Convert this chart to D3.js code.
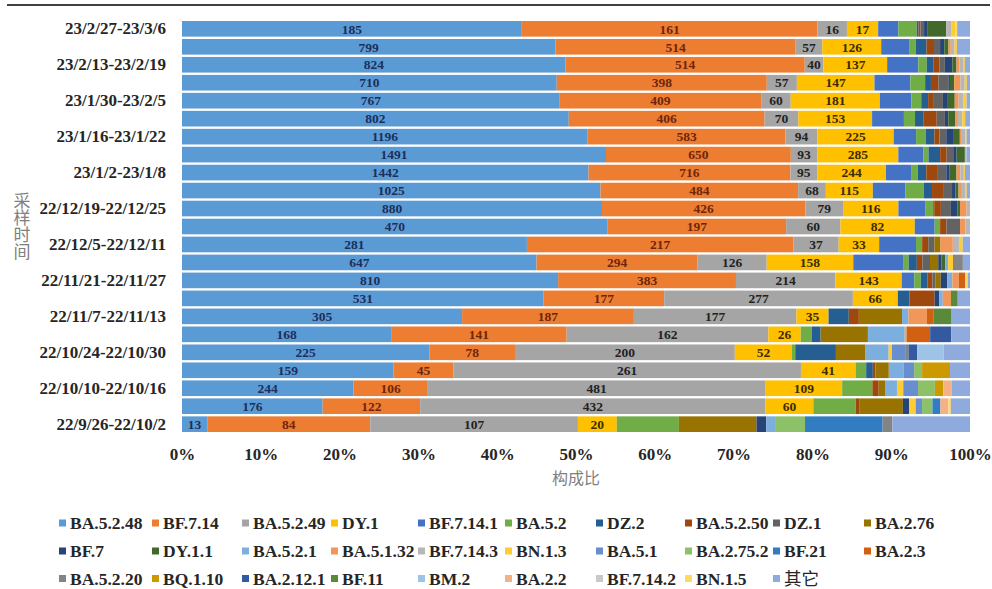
<!DOCTYPE html>
<html><head><meta charset="utf-8">
<script src="https://cdn.jsdelivr.net/npm/d3@7"></script>
<style>body{margin:0;background:#fff}svg{display:block}</style>
</head><body><svg id="chart" width="992" height="589"></svg>
<script>
// Sampling weeks, top row to bottom row
const weeks = ["23/2/27-23/3/6","23/2/20-23/2/26","23/2/13-23/2/19","23/2/6-23/2/12","23/1/30-23/2/5",
  "23/1/23-23/1/29","23/1/16-23/1/22","23/1/9-23/1/15","23/1/2-23/1/8","22/12/26-23/1/1",
  "22/12/19-22/12/25","22/12/12-22/12/18","22/12/5-22/12/11","22/11/28-22/12/4","22/11/21-22/11/27",
  "22/11/14-22/11/20","22/11/7-22/11/13","22/10/31-22/11/6","22/10/24-22/10/30","22/10/17-22/10/23",
  "22/10/10-22/10/16","22/10/3-22/10/9","22/9/26-22/10/2"];

// Sequence counts per lineage, one value per week (same order as weeks)
const BA_5_2_48 = [185,799,824,710,767,802,1196,1491,1442,1025,880,470,281,647,810,531,305,168,225,159,244,176,13];
const BF_7_14   = [161,514,514,398,409,406,583,650,716,484,426,197,217,294,383,177,187,141,78,45,106,122,84];
const BA_5_2_49 = [16,57,40,57,60,70,94,93,95,68,79,60,37,126,214,277,177,162,200,261,481,432,107];
const DY_1      = [17,126,137,147,181,153,225,285,244,115,116,82,33,158,143,66,35,26,52,41,109,60,20];
const BF_7_14_1 = [11,61,67,68,64,66,66,88,89,80,56,22,30,92,27,0,0,0,0,0,0,0,0];
const BA_5_2    = [10,13,18,28,20,23,29,18,24,45,17,6,5,9,14,0,0,9,3,8,43,53,32];
const DZ_2      = [1,23,14,11,14,17,25,41,30,20,2,0,0,15,14,17,22,7,37,5,0,0,0];
const BA_5_2_50 = [1,16,13,14,10,28,15,23,41,29,14,7,5,10,11,37,11,0,0,2,9,5,0];
const DZ_1      = [2,13,12,19,20,17,20,23,30,20,21,15,5,14,7,0,0,0,0,0,0,0,0];
const BA_2_76   = [0,0,0,0,0,0,0,0,0,0,0,0,5,15,11,0,47,38,27,10,9,54,40];
const BF_7      = [2,9,16,3,10,7,20,12,12,8,14,0,0,6,14,7,0,0,0,0,0,8,5];
const DY_1_1    = [10,9,9,8,14,14,20,29,24,8,5,0,0,7,0,0,0,0,0,0,0,0,0];
const BA_5_2_1  = [0,0,0,0,0,0,0,0,0,0,0,0,0,5,11,5,7,29,21,11,17,0,5];
const BA_5_1_32 = [0,5,6,12,8,6,6,0,14,8,14,6,10,0,14,12,20,0,0,0,0,0,0];
const BF_7_14_3 = [3,8,8,8,10,9,10,6,12,8,7,5,5,0,0,0,0,2,0,0,0,0,0];
const BN_1_3    = [2,5,4,4,6,6,4,0,4,4,0,0,3,9,0,0,0,0,3,0,9,8,0];
const BA_5_1    = [0,0,0,0,0,0,0,0,0,0,0,0,0,0,0,0,0,0,12,8,21,8,0];
const BA_2_75_2 = [0,0,0,0,0,0,0,0,0,0,0,0,0,0,0,0,0,0,0,6,24,13,15];
const BF_21     = [0,0,0,0,0,0,0,0,0,0,0,0,0,0,0,0,0,0,0,0,0,10,40];
const BA_2_3    = [0,0,0,0,0,0,0,0,0,0,0,0,0,0,14,0,7,19,0,0,0,0,0];
const BA_5_2_20 = [0,0,0,0,0,0,0,0,0,0,0,0,0,18,0,0,0,0,3,0,0,0,5];
const BQ_1_10   = [0,0,0,0,0,0,0,0,0,0,0,0,0,0,0,0,0,0,0,21,12,0,0];
const BA_2_12_1 = [0,0,0,0,0,0,0,0,0,0,0,0,0,0,0,0,0,17,8,0,0,0,0];
const BF_11     = [0,0,0,0,0,0,0,0,0,0,0,0,0,0,0,10,20,0,0,0,0,0,0];
const BM_2      = [0,0,0,0,0,0,0,0,0,0,0,0,0,0,0,0,0,0,24,0,0,0,0];
const BA_2_2    = [0,0,0,0,0,0,0,0,0,0,0,0,0,0,0,0,0,0,0,0,12,10,0];
const BF_7_14_2 = [0,0,0,0,0,0,0,0,0,0,0,0,0,0,0,0,0,0,0,0,0,0,0];
const BN_1_5    = [1,0,0,0,0,0,0,0,0,0,0,0,0,0,5,0,0,0,0,0,0,3,0];
const OTHERS    = [7,28,11,6,7,10,10,12,18,8,0,0,6,13,5,18,20,15,24,15,26,24,40];

const seriesNames = ["BA.5.2.48","BF.7.14","BA.5.2.49","DY.1","BF.7.14.1","BA.5.2","DZ.2","BA.5.2.50","DZ.1","BA.2.76",
  "BF.7","DY.1.1","BA.5.2.1","BA.5.1.32","BF.7.14.3","BN.1.3","BA.5.1","BA.2.75.2","BF.21","BA.2.3",
  "BA.5.2.20","BQ.1.10","BA.2.12.1","BF.11","BM.2","BA.2.2","BF.7.14.2","BN.1.5","其它"];
const seriesValues = [BA_5_2_48,BF_7_14,BA_5_2_49,DY_1,BF_7_14_1,BA_5_2,DZ_2,BA_5_2_50,DZ_1,BA_2_76,
  BF_7,DY_1_1,BA_5_2_1,BA_5_1_32,BF_7_14_3,BN_1_3,BA_5_1,BA_2_75_2,BF_21,BA_2_3,
  BA_5_2_20,BQ_1_10,BA_2_12_1,BF_11,BM_2,BA_2_2,BF_7_14_2,BN_1_5,OTHERS];
const seriesColors = ["#5B9BD5","#ED7D31","#A5A5A5","#FFC000","#4472C4","#70AD47","#255E91","#9E480E","#636363","#997300",
  "#264478","#43682B","#7CAFDD","#F1975A","#B7B7B7","#FFCD33","#698ED0","#8CC168","#327DC2","#D26012",
  "#848484","#CC9A00","#335AA1","#5A8A39","#9DC3E6","#F4B183","#C9C9C9","#FFD966","#8FAADC"];
const labelColors = ["#1c2f5a","#6e260b","#222222","#3a2c00"];
const xTicks = [0,0.1,0.2,0.3,0.4,0.5,0.6,0.7,0.8,0.9,1];

const svg = d3.select("#chart");
const serif = "'Liberation Serif','Times New Roman',serif";
const cjk = "'Noto Sans CJK SC','Noto Sans',sans-serif";

// top rule
svg.append("line").attr("x1",7).attr("x2",990).attr("y1",5).attr("y2",5)
  .attr("stroke","#000").attr("stroke-width",1.5);

const x = d3.scaleLinear().domain([0,1]).range([182,970]);
const y = d3.scaleBand().domain(weeks).range([21,432]).paddingInner(0.13).paddingOuter(0);

const keys = d3.range(seriesNames.length);
const table = weeks.map((w,i) => {
  const row = {week:w};
  keys.forEach(k => row[k] = seriesValues[k][i]);
  return row;
});
const stacked = d3.stack().keys(keys).offset(d3.stackOffsetExpand)(table);

const layers = svg.append("g").selectAll("g").data(stacked).join("g")
  .attr("fill", d => seriesColors[d.key]);
layers.selectAll("rect").data(d => d).join("rect")
  .attr("x", d => x(d[0]))
  .attr("width", d => Math.max(0, x(d[1]) - x(d[0])))
  .attr("y", d => y(d.data.week))
  .attr("height", y.bandwidth());

// count labels on the four main lineages
stacked.slice(0,4).forEach(layer => {
  svg.append("g").selectAll("text").data(layer).join("text")
    .attr("x", d => (x(d[0]) + x(d[1])) / 2)
    .attr("y", d => y(d.data.week) + y.bandwidth()/2)
    .attr("dy","0.35em")
    .attr("text-anchor","middle")
    .attr("font-family", serif).attr("font-weight","bold").attr("font-size",13.5)
    .attr("fill", labelColors[layer.key])
    .text(d => d.data[layer.key]);
});

// y axis: every other week
const yAxis = svg.append("g").attr("transform","translate(172,0)")
  .call(d3.axisLeft(y).tickValues(weeks.filter((d,i) => i % 2 === 0)).tickSize(0).tickPadding(6));
yAxis.select(".domain").remove();
yAxis.selectAll("text").attr("font-family", serif).attr("font-weight","bold")
  .attr("font-size",17).attr("fill","#262626");

// x axis
const xAxis = svg.append("g").attr("transform","translate(0,442)")
  .call(d3.axisBottom(x).tickValues(xTicks).tickFormat(d3.format(".0%")).tickSize(0).tickPadding(6));
xAxis.select(".domain").remove();
xAxis.selectAll("text").attr("font-family", serif).attr("font-weight","bold")
  .attr("font-size",17).attr("fill","#262626");

// axis titles
svg.append("text").attr("x",576).attr("y",478).attr("dy","0.35em").attr("text-anchor","middle")
  .attr("font-family", cjk).attr("font-size",16).attr("fill","#7f7f7f").text("构成比");
svg.append("text").attr("x",22).attr("y",226)
  .attr("writing-mode","vertical-rl").style("writing-mode","vertical-rl")
  .attr("text-anchor","middle")
  .attr("font-family", cjk).attr("font-size",17).attr("fill","#7f7f7f").text("采样时间");

// legend
const colX = [59,152,242,331,418,505,596,685,773,864];
const rowY = [523,551,578.5];
const legend = svg.append("g").selectAll("g").data(seriesNames).join("g")
  .attr("transform", (d,i) => `translate(${colX[i % 10]},${rowY[Math.floor(i/10)]})`);
legend.append("rect").attr("x",0).attr("y",-3.5).attr("width",7).attr("height",7)
  .attr("fill", (d,i) => seriesColors[i]);
legend.append("text").attr("x",11).attr("dy","0.35em")
  .attr("font-family", d => d === "其它" ? cjk : serif)
  .attr("font-weight", d => d === "其它" ? "normal" : "bold")
  .attr("font-size",17.5).attr("fill","#262626").text(d => d);
</script></body></html>
